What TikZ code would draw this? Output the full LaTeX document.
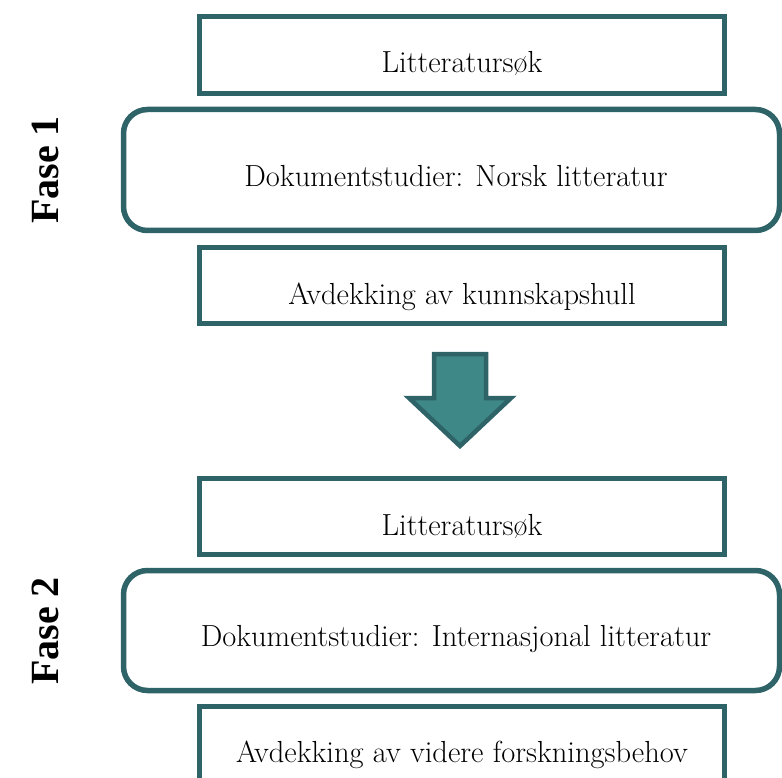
\documentclass[tikz,border=0pt]{standalone}
\usepackage{fontspec}
\newfontfamily\fasefont{Liberation Serif}
\usetikzlibrary{shapes.arrows}
\definecolor{bordc}{HTML}{2E6368}
\definecolor{arrc}{HTML}{3F8888}
\tikzset{
  boxst/.style={draw=bordc, line width=5.5pt, fill=white},
  txt/.style={font=\fontsize{30.5}{36}\selectfont, inner sep=0pt, anchor=base},
  fase/.style={font=\fontsize{40}{46}\fasefont\bfseries, rotate=90, inner sep=0pt}
}
\begin{document}
\begin{tikzpicture}[x=1pt,y=-1pt]
\useasboundingbox (0,0) rectangle (782,778);
% Phase 1
\draw[boxst] (199.5,16.5) rectangle (724.5,93.5);
\node[txt] (t1) at (462,73) {Litteratursøk};
\draw[boxst, rounded corners=24pt] (123.5,109.5) rectangle (779.5,230.5);
\node[txt] (t2) at (456,187) {Dokumentstudier: Norsk litteratur};
\draw[boxst] (199.5,247.5) rectangle (724.5,323.5);
\node[txt] (t3) at (462,304) {Avdekking av kunnskapshull};
\node[fase] (f1) at (45,170) {Fase 1};
% Arrow
\draw[draw=bordc, fill=arrc, line width=4.5pt, line join=miter]
  (434,354) -- (486,354) -- (486,398) -- (511,398) -- (460,446) -- (409,398) -- (434,398) -- cycle;
% Phase 2
\draw[boxst] (199.5,478.5) rectangle (724.5,554.5);
\node[txt] (t4) at (462,535) {Litteratursøk};
\draw[boxst, rounded corners=24pt] (123.5,570.5) rectangle (779.5,690.5);
\node[txt] (t5) at (456,646) {Dokumentstudier: Internasjonal litteratur};
\draw[boxst] (199.5,706.5) rectangle (724.5,790);
\node[txt] (t6) at (462,762) {Avdekking av videre forskningsbehov};
\node[fase] (f2) at (45,631) {Fase 2};
\end{tikzpicture}
\end{document}
